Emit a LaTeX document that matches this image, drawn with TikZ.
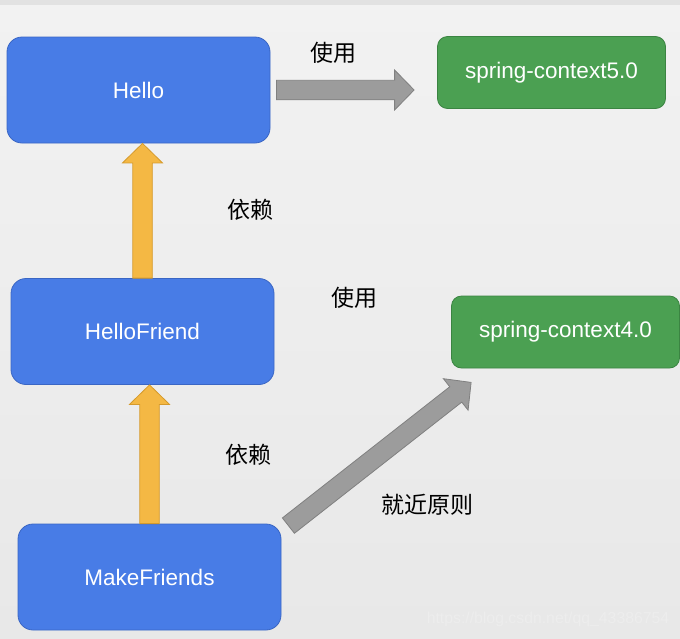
\documentclass[tikz,border=0pt]{standalone}
\usepackage{fontspec}
\setmainfont{Liberation Sans}
\newfontfamily\cjk{Noto Sans CJK SC}
\usetikzlibrary{calc}
\definecolor{bluefill}{RGB}{72,124,230}
\definecolor{blueline}{RGB}{58,102,196}
\definecolor{greenfill}{RGB}{75,160,82}
\definecolor{greenline}{RGB}{59,132,66}
\definecolor{orangefill}{RGB}{244,184,68}
\definecolor{orangeline}{RGB}{213,154,44}
\definecolor{grayfill}{RGB}{156,156,156}
\definecolor{grayline}{RGB}{128,128,128}
\definecolor{bgtop}{RGB}{242,242,242}
\definecolor{bgbottom}{RGB}{232,232,232}
\definecolor{bandgray}{RGB}{226,226,226}
\tikzset{
    mynode/.style = {rectangle, rounded corners=15pt, draw=blueline, fill=bluefill, line width=0.8pt, minimum width=263pt, minimum height=106pt, align=center, font=\fontsize{22.5}{27}\selectfont, text=white},
    mynodeg/.style = {rectangle, rounded corners=10pt, draw=greenline, fill=greenfill, line width=0.8pt, minimum width=228pt, minimum height=72pt, align=center, font=\fontsize{22.5}{27}\selectfont, text=white},
    mylabel/.style = {font=\cjk\fontsize{23}{28}\selectfont, text=black},
    blockarrow/.style = {line width=0.8pt, to path={
        ($(\tikztostart)!9.75pt!90:(\tikztotarget)$)
        -- ($(\tikztotarget)!19.5pt!(\tikztostart)!9.75pt!-90:(\tikztostart)$)
        -- ($(\tikztotarget)!19.5pt!(\tikztostart)!20pt!-90:(\tikztostart)$)
        -- (\tikztotarget)
        -- ($(\tikztotarget)!19.5pt!(\tikztostart)!20pt!90:(\tikztostart)$)
        -- ($(\tikztotarget)!19.5pt!(\tikztostart)!9.75pt!90:(\tikztostart)$)
        -- ($(\tikztostart)!9.75pt!-90:(\tikztotarget)$)
        -- cycle}},
    edgeo/.style = {blockarrow, draw=orangeline, fill=orangefill}, % depends on
    edgeg/.style = {blockarrow, draw=grayline, fill=grayfill}, % uses
}
\begin{document}
\begin{tikzpicture}[x=1pt, y=-1pt]
  \useasboundingbox (0,0) rectangle (680,638);
  \fill[top color=bgtop, bottom color=bgbottom] (0,0) rectangle (680,638);
  \fill[bandgray] (0,0) rectangle (680,5);

  \node[mynode] (hello) at (138.5,90) {Hello};
  \node[mynode] (hellofriend) at (142.5,331.5) {HelloFriend};
  \node[mynode] (makefriends) at (149.5,577) {MakeFriends};
  \node[mynodeg] (ctx5) at (551.5,72.5) {spring-context5.0};
  \node[mynodeg] (ctx4) at (565.5,332) {spring-context4.0};

  \coordinate (tip5) at ($(hello.east -| ctx5.west)+(-23,0)$);
  \draw[edgeg] ($(hello.east)+(6,0)$) to (tip5);
  \draw[edgeo] (hellofriend.north) to (hellofriend.north |- hello.south);
  \draw[edgeo] (makefriends.north) to (makefriends.north |- hellofriend.south);
  \draw[edgeg] ($(makefriends.north east)+(7,2)$) to ($(ctx4.south west)+(20,14)$);

  \node[mylabel] (use1) at (333,53) {使用};
  \node[mylabel] (dep1) at (250,210) {依赖};
  \node[mylabel] (use2) at (354,298) {使用};
  \node[mylabel] (dep2) at (248,455) {依赖};
  \node[mylabel] (near) at (427,505) {就近原则};

  \node[font=\fontsize{15.8}{19}\selectfont, text=white!93!black] (mark) at (548,619) {https://blog.csdn.net/qq\_43386754};
\end{tikzpicture}
\end{document}
